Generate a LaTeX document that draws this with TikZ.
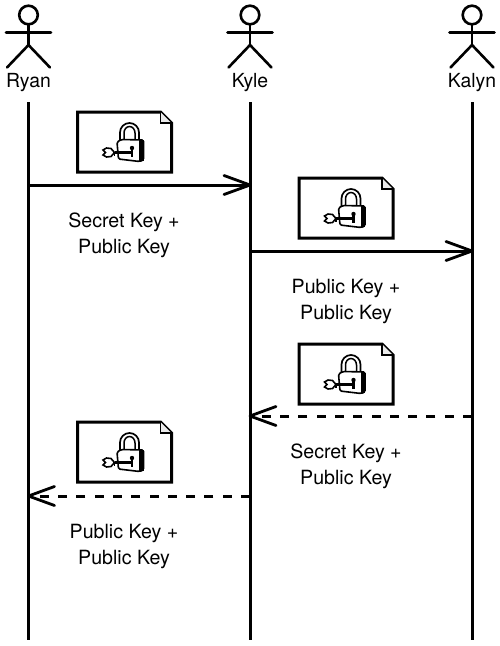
\documentclass[tikz,border=0pt]{standalone}
\usepackage{fontspec}
\setmainfont{TeX Gyre Heros}
\tikzset{
  actorline/.style={line width=2.6pt,line cap=round},
  lifeline/.style={line width=3pt},
  msg/.style={line width=3pt},
  tipline/.style={line width=2.8pt,line join=round,line cap=round},
  dmsg/.style={line width=3pt,dash pattern=on 9pt off 9.3pt},
  docline/.style={line width=3pt,line join=miter},
  label/.style={font=\fontsize{19.6}{26}\selectfont,align=center,inner sep=0pt,text=black},
  actorname/.style={font=\fontsize{19.4}{20}\selectfont,inner sep=0pt,text=black},
  pics/actor/.style={code={
    \draw[actorline] (0,0) circle[radius=9.3];
    \draw[actorline] (0,9.3) -- (0,30);
    \draw[actorline] (-22.5,17.5) -- (22.5,17.5);
    \draw[actorline] (-21.5,52.5) -- (0,30) -- (21.5,52.5);
  }},
  pics/lockdoc/.style={code={
    \draw[docline,fill=white] (0,0) -- (83,0) -- (94,11) -- (94,60) -- (0,60) -- cycle;
    \draw[line width=1.2pt,fill=black!8] (83,0) -- (83,11) -- (94,11);
    % shackle
    \draw[line width=1.7pt] (42.5,28) -- (42.5,20.5) arc[start angle=180,end angle=360,x radius=9.5,y radius=9.5] -- (61.5,28);
    \draw[line width=1.5pt] (46.5,28) -- (46.5,21) arc[start angle=180,end angle=360,x radius=5.5,y radius=6.5] -- (57.5,28);
    % body
    \draw[line width=1.6pt,fill=white,rounded corners=1.5pt] (39.5,30) -- (44,27.5) -- (66,28) -- (66,48) -- (62,49.5) -- (41,47) -- cycle;
    \fill (61.5,28) rectangle (66,49);
    % keyhole and key
    \fill (54.5,36) circle[radius=2.2];
    \fill (53.2,36) rectangle (55.8,45);
    \draw[line width=2.2pt] (37,40.5) -- (54,40.5);
    \draw[line width=1.6pt,fill=white] (37,40.5) -- (33.5,36.5) -- (29,36) -- (25.5,38) -- (28,40.5) -- (25.5,43) -- (29,45) -- (33.5,44.5) -- cycle;
    \draw[line width=1.4pt] (37,40.5) -- (37,43.5);
  }},
}
\begin{document}
\begin{tikzpicture}[x=1pt,y=-1pt]
\useasboundingbox (0,0) rectangle (500,646);
\pic at (28.5,15) {actor};
\pic at (250,15) {actor};
\pic at (472,15) {actor};
\node[actorname] (ryan) at (28.5,83) {Ryan};
\node[actorname] (kyle) at (250,83) {Kyle};
\node[actorname] (kalyn) at (472,83) {Kalyn};
\coordinate (rt) at (28.5,102); \coordinate (rb) at (28.5,640);
\coordinate (kt) at (250,102); \coordinate (kb) at (250,640);
\coordinate (lt) at (472,102); \coordinate (lb) at (472,640);
\draw[lifeline] (rt) -- (rb);
\draw[lifeline] (kt) -- (kb);
\draw[lifeline] (lt) -- (lb);
\pic at (77.5,112) {lockdoc};
\pic at (299,178) {lockdoc};
\pic at (299,344) {lockdoc};
\pic at (77.5,422) {lockdoc};
\coordinate (a1s) at (28.5,185); \coordinate (a1e) at (250,185);
\coordinate (a2s) at (250,251); \coordinate (a2e) at (472,251);
\coordinate (a3s) at (472,416); \coordinate (a3e) at (250,416);
\coordinate (a4s) at (250,496); \coordinate (a4e) at (28.5,496);
\draw[msg] (a1s) -- (a1e);
\draw[tipline] ([xshift=-26pt,yshift=-9.5pt]a1e) -- (a1e) -- ([xshift=-26pt,yshift=9.5pt]a1e);
\draw[msg] (a2s) -- (a2e);
\draw[tipline] ([xshift=-26pt,yshift=-9.5pt]a2e) -- (a2e) -- ([xshift=-26pt,yshift=9.5pt]a2e);
\draw[dmsg] (a3s) -- (a3e);
\draw[tipline] ([xshift=26pt,yshift=-9.5pt]a3e) -- (a3e) -- ([xshift=26pt,yshift=9.5pt]a3e);
\draw[dmsg] (a4s) -- (a4e);
\draw[tipline] ([xshift=26pt,yshift=-9.5pt]a4e) -- (a4e) -- ([xshift=26pt,yshift=9.5pt]a4e);
\node[label] (l1) at (124,235.5) {Secret Key +\\Public Key};
\node[label] (l2) at (346,301.5) {Public Key +\\Public Key};
\node[label] (l3) at (346,466.5) {Secret Key +\\Public Key};
\node[label] (l4) at (124,546.5) {Public Key +\\Public Key};
\end{tikzpicture}
\end{document}
